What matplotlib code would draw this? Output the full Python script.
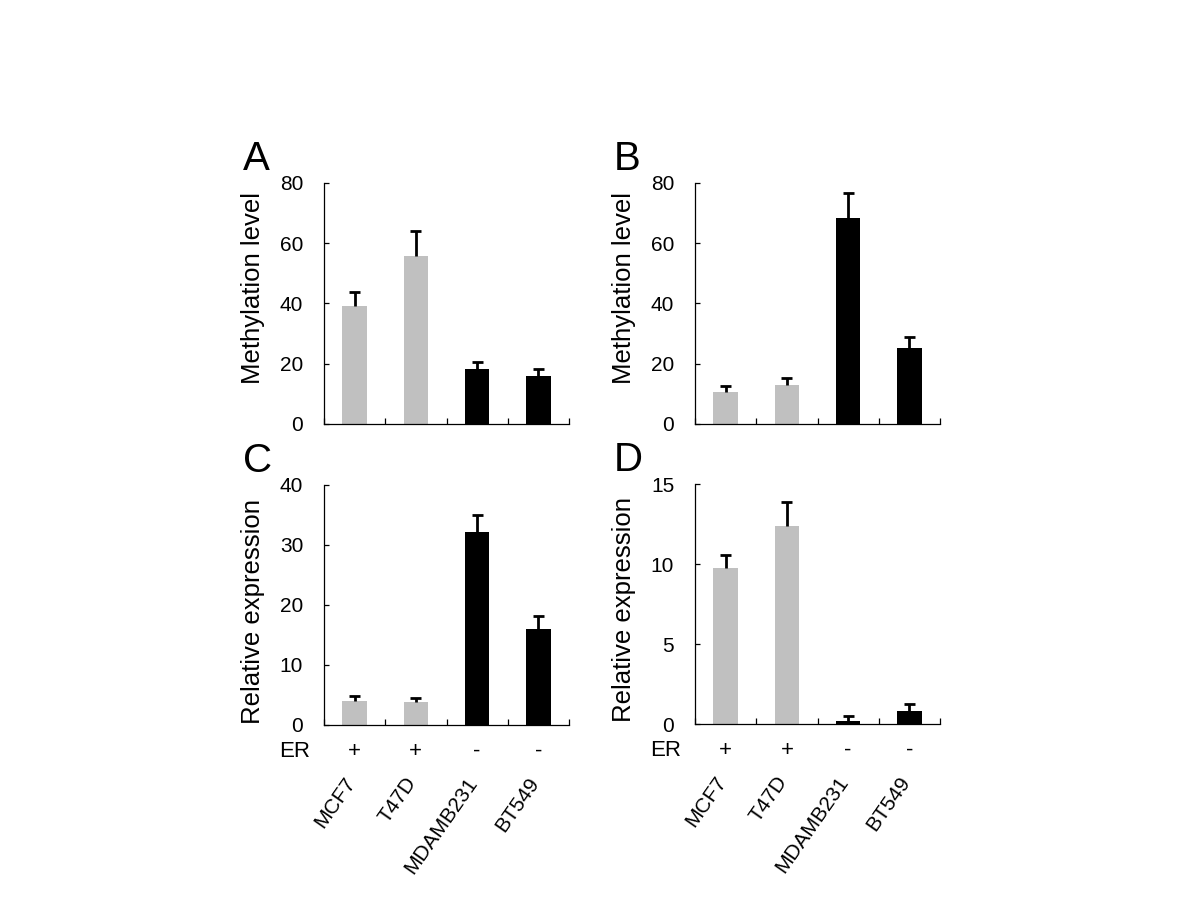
import numpy as np
import matplotlib.pyplot as plt

plt.rcParams['font.family'] = ['Liberation Sans', 'DejaVu Sans']

# cell lines and ER status
cell_lines = ["MCF7", "T47D", "MDAMB231", "BT549"]
er_status = ["+", "+", "-", "-"]
bar_colors = ["#c0c0c0", "#c0c0c0", "#000000", "#000000"]

# panel A / B : methylation level
meth_a = [39.3, 55.9, 18.3, 16.0]
meth_a_err = [4.6, 8.2, 2.4, 2.2]
meth_b = [10.6, 12.9, 68.5, 25.2]
meth_b_err = [2.0, 2.3, 8.3, 3.6]

# panel C / D : relative expression
expr_c = [4.05, 3.8, 32.2, 16.05]
expr_c_err = [0.85, 0.7, 2.85, 2.15]
expr_d = [9.75, 12.35, 0.2, 0.81]
expr_d_err = [0.81, 1.55, 0.28, 0.44]

fig = plt.figure(figsize=(12, 9), dpi=100)

# axes rectangles in figure fraction (from pixel edges)
W = 1200.0
H = 900.0
def rect(left, right, bottom, top):
    return [left / W, 1 - bottom / H, (right - left) / W, (bottom - top) / H]

panels = [
    ("A", rect(324, 569, 424, 183), meth_a, meth_a_err, 80, 20, "Methylation level", 0.566, False),
    ("B", rect(695, 940, 424, 183), meth_b, meth_b_err, 80, 20, "Methylation level", 0.566, False),
    ("C", rect(324, 569, 725, 485), expr_c, expr_c_err, 40, 10, "Relative expression", 0.475, True),
    ("D", rect(695, 940, 724, 484), expr_d, expr_d_err, 15, 5, "Relative expression", 0.475, True),
]

x = np.arange(1, len(cell_lines) + 1)
cap = 0.09

for letter, r, vals, errs, ymax, step, ylab, ylab_y, show_names in panels:
    ax = fig.add_axes(r)
    vals = np.array(vals)
    errs = np.array(errs)
    ax.bar(x, vals, width=0.4, color=bar_colors, zorder=2)
    # upper error bars only
    ax.vlines(x, vals, vals + errs, color='black', linewidth=2.0, zorder=3)
    ax.hlines(vals + errs, x - cap, x + cap, color='black', linewidth=2.0, zorder=3)
    ax.set_xlim(0.5, len(cell_lines) + 0.5)
    ax.set_ylim(0, ymax)
    ax.set_yticks(np.arange(0, ymax + 1, step))
    ax.set_xticks(np.arange(0.5, len(cell_lines) + 1, 1.0))
    ax.set_xticklabels([])
    ax.spines['top'].set_visible(False)
    ax.spines['right'].set_visible(False)
    for s in ['left', 'bottom']:
        ax.spines[s].set_linewidth(0.9)
    ax.tick_params(axis='both', direction='in', length=3.5, width=0.9,
                   labelsize=15, pad=15)
    ax.tick_params(axis='x', length=4)
    ax.set_ylabel(ylab, fontsize=18.5, labelpad=11)
    ax.yaxis.label.set_y(ylab_y)
    ax.text(-0.33, 1.02, letter, transform=ax.transAxes, fontsize=29,
            ha='left', va='bottom')

    if show_names:
        tr = ax.get_xaxis_transform()
        ax.text(-0.12, -0.11, "ER", transform=ax.transAxes, fontsize=16,
                ha='center', va='center')
        for xi, sgn, name in zip(x, er_status, cell_lines):
            ax.text(xi, -0.11, sgn, transform=tr, fontsize=16,
                    ha='center', va='center')
            ax.text(xi - 0.06, -0.225, name, transform=tr, fontsize=15,
                    rotation=55, rotation_mode='anchor', ha='right', va='center')

fig.savefig("out.png", dpi=100)
